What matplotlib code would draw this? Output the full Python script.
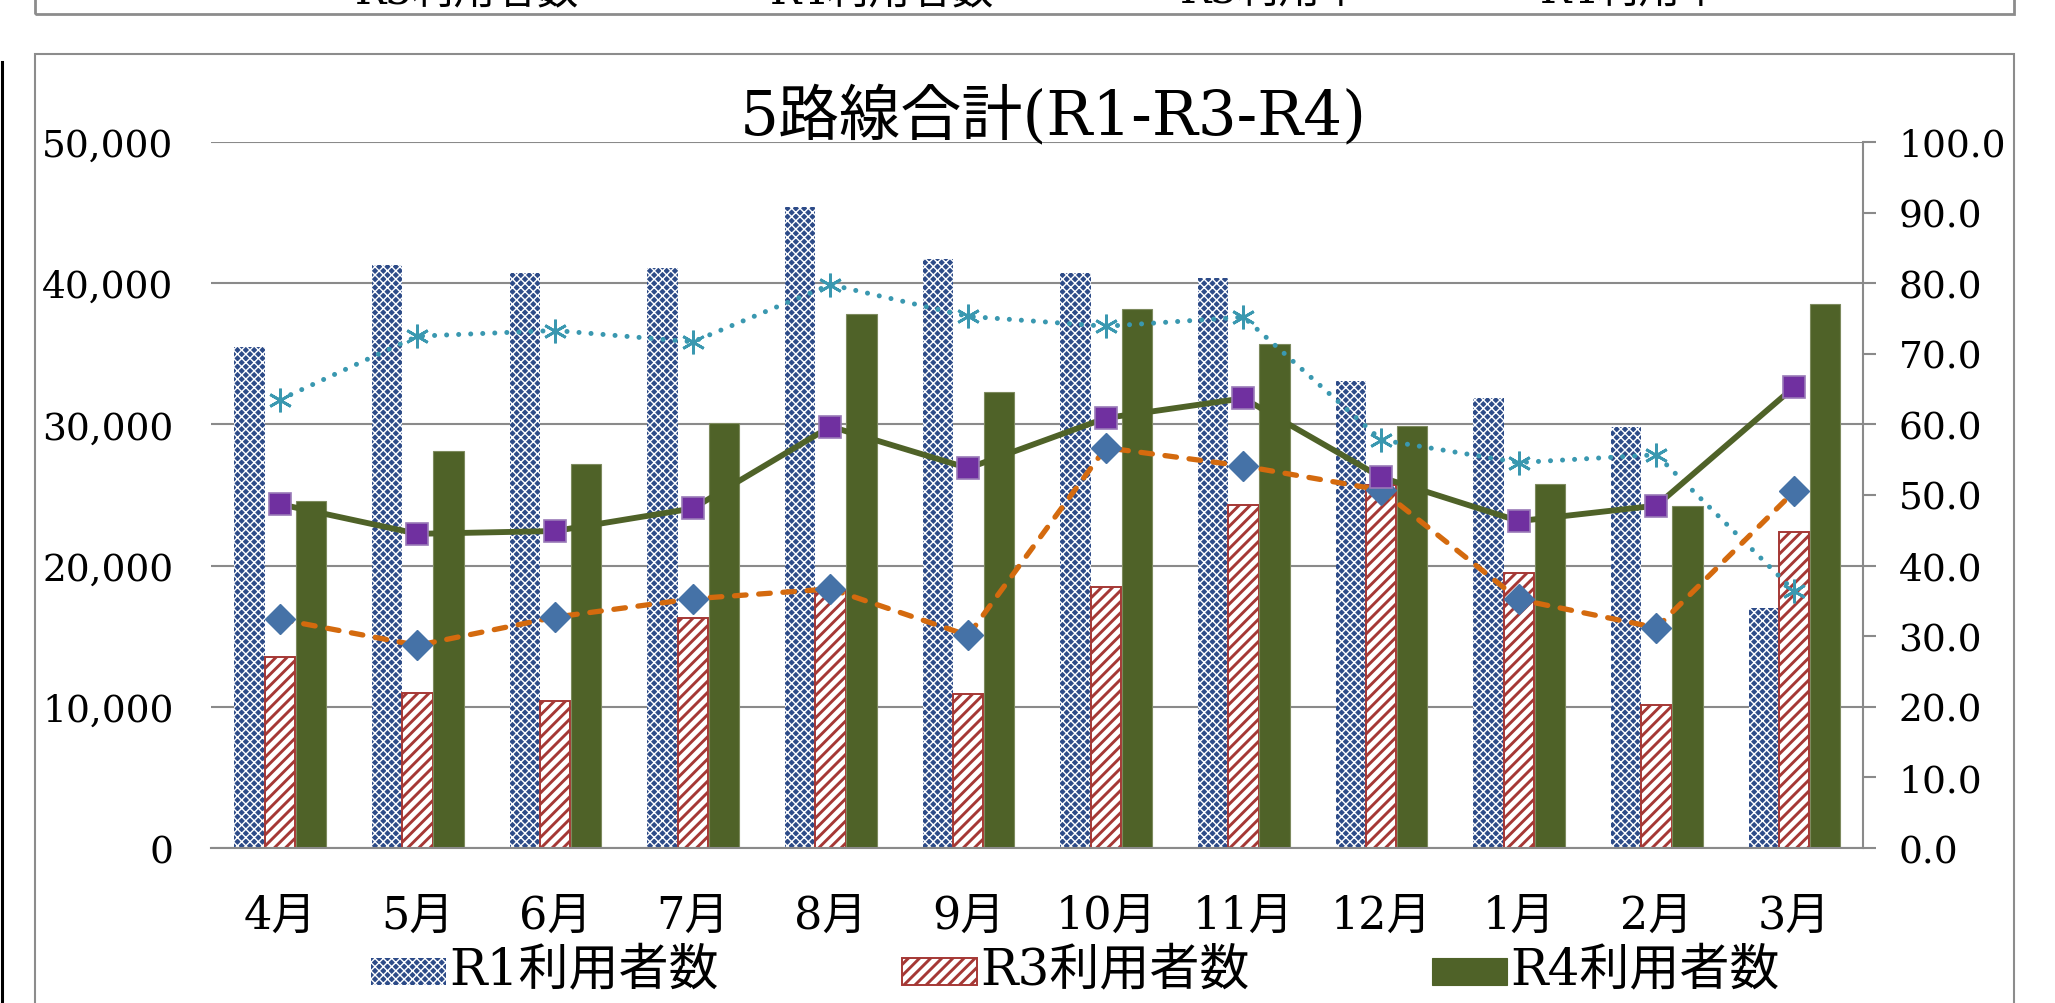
import matplotlib
matplotlib.use("Agg")
import matplotlib.pyplot as plt
from matplotlib.patches import Rectangle
from matplotlib.lines import Line2D
import numpy as np

# 月別データ
months = ['4月', '5月', '6月', '7月', '8月', '9月', '10月', '11月', '12月', '1月', '2月', '3月']
r1_users = [35500, 41300, 40700, 41100, 45400, 41700, 40700, 40400, 33100, 31900, 29800, 17000]
r3_users = [13500, 11000, 10400, 16300, 18200, 10900, 18500, 24300, 25700, 19500, 10100, 22400]
r4_users = [24600, 28100, 27200, 30100, 37800, 32300, 38200, 35700, 29900, 25800, 24200, 38500]
r1_rate = [63.5, 72.5, 73.3, 71.7, 79.8, 75.3, 73.9, 75.2, 57.8, 54.6, 55.7, 36.4]
r3_rate = [32.4, 28.7, 32.7, 35.3, 36.7, 30.1, 56.7, 54.1, 50.7, 35.2, 31.2, 50.5]
r4_rate = [48.7, 44.5, 44.9, 48.1, 59.7, 53.8, 60.9, 63.7, 52.5, 46.3, 48.5, 65.3]

title = '5路線合計(R1-R3-R4)'
bar_labels = ['R1利用者数', 'R3利用者数', 'R4利用者数']
top_labels = ['R3利用者数', 'R4利用者数', 'R3利用率', 'R4利用率']

FONT = ['DejaVu Serif', 'Noto Sans CJK JP']
plt.rcParams['font.family'] = FONT
plt.rcParams['hatch.linewidth'] = 2.1

C_R1 = '#2d4b88'
C_R3 = '#a53835'
C_R4 = '#4f6228'
GRID = '#8a8a8a'


def thin_hatch(patches):
    # R1の網目は細く
    for p in patches:
        if hasattr(p, 'set_hatch_linewidth'):
            p.set_hatch_linewidth(1.0)


fig = plt.figure(figsize=(20.55, 10.04), dpi=100)
ax = fig.add_axes([211 / 2055, 1 - 849 / 1004, (1863 - 211) / 2055, (849 - 143) / 1004])
ax2 = ax.twinx()

x = np.arange(len(months))
w = 0.22

# 棒グラフ
b1 = ax.bar(x - 0.22, r1_users, w, color=C_R1, edgecolor='white', hatch='xxxx', linewidth=0, zorder=2)
thin_hatch(b1)
ax.bar(x, r3_users, w, color='white', edgecolor=C_R3, hatch='///', linewidth=1.4, zorder=2)
ax.bar(x + 0.225, r4_users, w, color=C_R4, edgecolor='#7d8a5e', linewidth=0.8, zorder=2)

ax.set_xlim(-0.5, len(months) - 0.5)
ax.set_ylim(0, 50000)
ax.set_yticks(range(0, 50001, 10000))
ax.set_yticklabels([f'{v:,}' for v in range(0, 50001, 10000)])
ax.yaxis.grid(True, color=GRID, linewidth=1.5, zorder=0)
ax.set_axisbelow(True)
ax.set_xticks(x)
ax.set_xticklabels(months)
ax.tick_params(axis='y', length=0, pad=27, labelsize=27)
ax.tick_params(axis='x', length=0, pad=33, labelsize=32)
for s in ['left', 'top', 'right']:
    ax.spines[s].set_visible(False)
ax.spines['bottom'].set_color(GRID)
ax.spines['bottom'].set_linewidth(1.5)

# 折れ線 (右軸)
ax2.plot(x, r1_rate, color='#3a98b0', linewidth=3.6, linestyle=(0, (0.01, 2.4)),
         dash_capstyle='round', marker=(6, 2, 0), markersize=17, markeredgewidth=2,
         markeredgecolor='#3a98b0', zorder=3)
ax2.plot(x, r3_rate, color='#d46a0e', linewidth=3.8, linestyle=(0, (2.2, 2.4)),
         dash_capstyle='round', marker='D', markersize=15,
         markerfacecolor='#4572a7', markeredgecolor='#4572a7', zorder=4)
ax2.plot(x, r4_rate, color=C_R4, linewidth=4.2, linestyle='-',
         marker='s', markersize=16, markerfacecolor='#7030a0', markeredgecolor='#9a7ab8',
         markeredgewidth=1.2, zorder=5)

ax2.set_ylim(0, 100)
ax2.set_yticks(range(0, 101, 10))
ax2.set_yticklabels([f'{v:.1f}' for v in range(0, 101, 10)])
ax2.tick_params(axis='y', length=9.5, width=1.5, color=GRID, pad=16, labelsize=27)
for s in ['left', 'top', 'bottom']:
    ax2.spines[s].set_visible(False)
ax2.spines['right'].set_color(GRID)
ax2.spines['right'].set_linewidth(1.5)

# タイトル
fig.text(1053 / 2055, 1 - 118 / 1004, title, ha='center', va='center', fontsize=44)

# 凡例 (下)
leg_x = [371, 902, 1432]
styles = [dict(facecolor=C_R1, edgecolor='white', hatch='xxxx', linewidth=0),
          dict(facecolor='white', edgecolor=C_R3, hatch='///', linewidth=1.4),
          dict(facecolor=C_R4, edgecolor=C_R4, linewidth=0.8)]
for i, (lx, lab, st) in enumerate(zip(leg_x, bar_labels, styles)):
    r = Rectangle((lx / 2055, 1 - 986 / 1004), 75 / 2055, 27 / 1004,
                  transform=fig.transFigure, figure=fig, **st)
    if i == 0:
        thin_hatch([r])
    fig.patches.append(r)
    fig.text((lx + 78) / 2055, 1 - 972 / 1004, lab, ha='left', va='center', fontsize=36)

# 枠線
fig.patches.append(Rectangle((35 / 2055, -0.05), (2014 - 35) / 2055, 1 - 55 / 1004 + 0.05,
                             transform=fig.transFigure, figure=fig, fill=False,
                             edgecolor='#8c8c8c', linewidth=1.5))
fig.patches.append(Rectangle((35 / 2055, 1 - 15 / 1004), (2014 - 35) / 2055, 0.1,
                             transform=fig.transFigure, figure=fig, fill=False,
                             edgecolor='#8c8c8c', linewidth=2))
fig.lines.append(Line2D([2 / 2055, 2 / 2055], [0, 1 - 63 / 1004], transform=fig.transFigure,
                        color='black', linewidth=2.2))

# 上の凡例 (上端で切れている)
for tx, lab in zip([355, 770, 1180, 1540], top_labels):
    fig.text(tx / 2055, 1 - 12 / 1004, lab, ha='left', va='bottom', fontsize=30)

fig.savefig('out.png', dpi=100)
